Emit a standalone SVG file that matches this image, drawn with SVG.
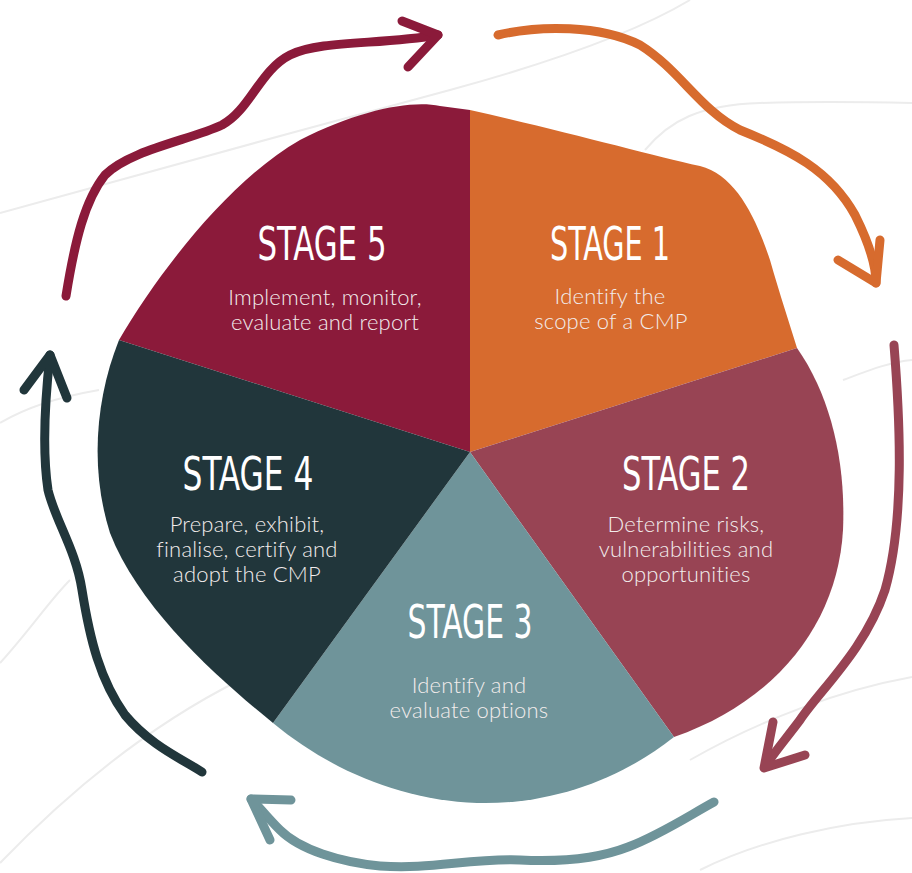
<svg xmlns="http://www.w3.org/2000/svg" width="912" height="873" viewBox="0 0 912 873">
<style>
.bg{fill:none;stroke:#ececec;stroke-width:2}
.arr{fill:none;stroke-width:9;stroke-linecap:round;stroke-linejoin:round}
.title{font-family:"DejaVu Sans Condensed","Liberation Sans",sans-serif;font-size:46px;fill:#ffffff;text-anchor:middle}
.body{font-family:Lato,"Open Sans",sans-serif;font-weight:300;font-size:22px;letter-spacing:0.2px;fill:#f2ecec;text-anchor:middle}
</style>
<rect width="912" height="873" fill="#ffffff"/>
<g id="background">
<path class="bg" d="M0,213 C120,180 300,130 450,90 C560,60 640,30 690,0"/>
<path class="bg" d="M645,150 C670,120 700,105 760,103 C820,101 870,102 912,103"/>
<path class="bg" d="M0,423 C30,405 70,395 99,390"/>
<path class="bg" d="M0,663 C30,630 50,600 70,580"/>
<path class="bg" d="M0,863 C80,780 160,720 240,680"/>
<path class="bg" d="M700,870 C760,840 840,822 912,818"/>
<path class="bg" d="M690,760 C760,720 840,690 912,677"/>
<path class="bg" d="M843,380 C870,370 890,362 912,360"/>
</g>
<g id="stage5">
<path fill="#8b1a3a" d="M470,452 L119,340 C160,270 230,180 300,140 C360,110 410,100 440,106 L470,110 Z"/>
<text class="title" x="322" y="260" textLength="129" lengthAdjust="spacingAndGlyphs">STAGE 5</text>
<text class="body" x="325" y="305">Implement, monitor,</text>
<text class="body" x="325" y="330">evaluate and report</text>
</g>
<g id="stage1">
<path fill="#d76b2e" d="M470,452 L470,110 C560,130 650,155 700,166 C735,175 755,215 770,260 C780,295 790,325 797,348 Z"/>
<text class="title" x="610" y="260" textLength="120" lengthAdjust="spacingAndGlyphs">STAGE 1</text>
<text class="body" x="610" y="304">Identify the</text>
<text class="body" x="611" y="329">scope of a CMP</text>
</g>
<g id="stage2">
<path fill="#984454" d="M470,452 L797,348 C830,395 846,460 843,530 C838,620 780,700 674,737 Z"/>
<text class="title" x="686" y="490" textLength="128" lengthAdjust="spacingAndGlyphs">STAGE 2</text>
<text class="body" x="686" y="532">Determine risks,</text>
<text class="body" x="686" y="557">vulnerabilities and</text>
<text class="body" x="686" y="582">opportunities</text>
</g>
<g id="stage3">
<path fill="#6f949a" d="M470,452 L674,737 C620,780 550,805 477,803 C400,800 330,770 273,723 Z"/>
<text class="title" x="470" y="638" textLength="125" lengthAdjust="spacingAndGlyphs">STAGE 3</text>
<text class="body" x="469" y="693">Identify and</text>
<text class="body" x="469" y="718">evaluate options</text>
</g>
<g id="stage4">
<path fill="#21363b" d="M470,452 L273,723 C220,680 140,610 110,533 C90,470 95,400 119,340 Z"/>
<text class="title" x="248" y="490" textLength="131" lengthAdjust="spacingAndGlyphs">STAGE 4</text>
<text class="body" x="247" y="532">Prepare, exhibit,</text>
<text class="body" x="247" y="557">finalise, certify and</text>
<text class="body" x="247" y="582">adopt the CMP</text>
</g>
<g id="connectors">
<g stroke="#8b1a3a" class="arr">
<path d="M66,296 C75,240 85,200 105,175 C130,150 190,140 222,125 C250,110 260,70 290,55 C320,40 380,45 438,35"/>
<path d="M402,21 L438,35 L408,67"/>
</g>
<g stroke="#d76b2e" class="arr">
<path d="M498,35 C540,25 600,25 640,45 C680,70 700,110 740,130 C790,150 830,170 855,215 C870,245 876,265 876,283"/>
<path d="M838,260 L876,283 L880,240"/>
</g>
<g stroke="#984454" class="arr">
<path d="M894,345 C900,420 905,520 885,590 C865,650 820,690 800,720 C785,740 772,755 765,767"/>
<path d="M773,722 L764,768 L805,755"/>
</g>
<g stroke="#6f949a" class="arr">
<path d="M714,802 C690,815 660,835 628,847 C600,858 560,862 520,860 C470,858 430,870 380,866 C340,862 300,850 280,830 C265,815 258,805 251,799"/>
<path d="M291,800 L251,799 L270,840"/>
</g>
<g stroke="#21363b" class="arr">
<path d="M202,772 C180,758 150,745 125,715 C100,680 90,640 82,590 C76,550 55,520 48,490 C42,450 45,400 50,355"/>
<path d="M24,390 L50,355 L67,398"/>
</g>
</g>
</svg>
